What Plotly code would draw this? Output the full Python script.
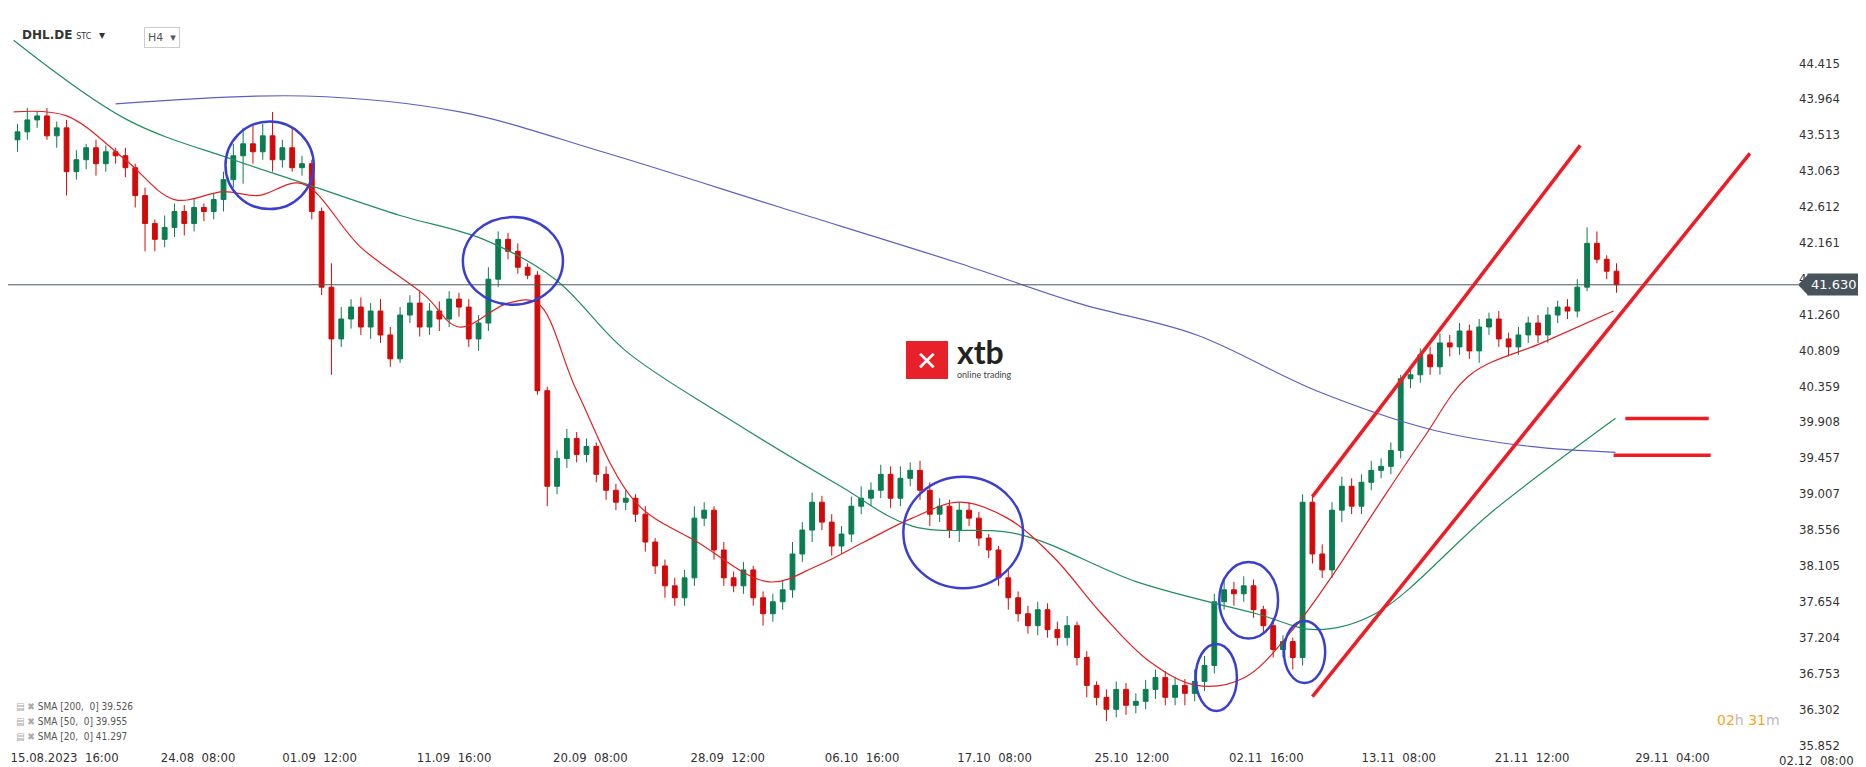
import plotly.graph_objects as go

closes = [43.55,43.70,43.75,43.50,43.60,43.05,43.20,43.35,43.15,43.30,
          43.25,43.10,42.75,42.40,42.20,42.35,42.55,42.40,42.60,42.55,
          42.70,42.95,43.25,43.40,43.30,43.50,43.20,43.35,43.10,43.15,
          42.55,41.60,40.95,41.20,41.35,41.10,41.30,41.00,40.70,41.25,
          41.40,41.10,41.30,41.20,41.45,41.35,40.95,41.15,41.70,42.20,
          42.05,41.85,41.75,40.30,39.10,39.45,39.70,39.50,39.60,39.25,
          39.05,38.90,38.95,38.75,38.40,38.10,37.85,37.70,37.95,38.70,
          38.80,38.30,37.95,37.85,38.05,37.70,37.50,37.65,37.80,38.25,
          38.55,38.90,38.65,38.35,38.50,38.85,38.95,39.05,39.25,38.95,
          39.20,39.30,39.05,38.75,38.85,38.55,38.80,38.70,38.45,38.30,
          37.95,37.70,37.50,37.35,37.55,37.30,37.20,37.35,36.95,36.60,
          36.45,36.30,36.55,36.35,36.40,36.55,36.70,36.45,36.60,36.50,
          36.65,36.85,37.65,37.80,37.75,37.85,37.55,37.35,37.05,37.15,
          36.95,38.90,38.25,38.05,38.80,39.10,38.85,39.15,39.30,39.35,
          39.55,40.45,40.50,40.75,40.60,40.90,40.85,41.05,40.80,41.10,
          41.20,40.95,40.85,41.00,41.15,41.00,41.25,41.35,41.30,41.60,
          42.15,41.95,41.80,41.63]
first_open = 43.45
upper_wick = [0.10,0.15,0.05,0.10,0.08,0.10,0.12,0.05,0.10,0.08,
              0.05,0.10,0.05,0.10,0.05,0.15,0.10,0.08,0.12,0.05,
              0.08,0.10,0.15,0.20,0.25,0.15,0.30,0.10,0.25,0.10,
              0.05,0.05,0.30,0.15,0.10,0.12,0.10,0.15,0.10,0.10,
              0.10,0.15,0.10,0.12,0.10,0.08,0.10,0.10,0.15,0.10,
              0.08,0.10,0.05,0.05,0.05,0.10,0.12,0.08,0.10,0.05,
              0.10,0.08,0.10,0.05,0.10,0.05,0.08,0.10,0.10,0.15,
              0.10,0.05,0.10,0.08,0.10,0.05,0.08,0.10,0.12,0.15,
              0.10,0.12,0.08,0.10,0.10,0.12,0.15,0.10,0.12,0.10,
              0.15,0.10,0.12,0.10,0.10,0.08,0.10,0.10,0.08,0.05,
              0.05,0.10,0.08,0.10,0.10,0.08,0.10,0.12,0.05,0.08,
              0.05,0.10,0.10,0.08,0.10,0.12,0.10,0.08,0.10,0.08,
              0.15,0.12,0.10,0.15,0.10,0.12,0.08,0.05,0.10,0.08,
              0.05,0.10,0.10,0.12,0.10,0.12,0.10,0.10,0.12,0.10,
              0.10,0.05,0.10,0.08,0.10,0.12,0.10,0.10,0.08,0.10,
              0.08,0.10,0.08,0.10,0.08,0.10,0.10,0.08,0.10,0.10,
              0.20,0.15,0.05,0.10]
lower_wick = [0.15,0.10,0.10,0.05,0.15,0.30,0.10,0.12,0.15,0.10,
              0.10,0.12,0.15,0.35,0.15,0.10,0.12,0.15,0.10,0.12,
              0.10,0.15,0.10,0.35,0.15,0.10,0.15,0.10,0.05,0.10,
              0.10,0.10,0.45,0.10,0.12,0.10,0.15,0.10,0.10,0.05,
              0.10,0.12,0.10,0.15,0.10,0.12,0.10,0.15,0.10,0.10,
              0.10,0.08,0.05,0.05,0.25,0.10,0.12,0.10,0.10,0.10,
              0.12,0.10,0.10,0.10,0.12,0.10,0.15,0.10,0.10,0.10,
              0.10,0.12,0.10,0.08,0.10,0.10,0.15,0.10,0.10,0.10,
              0.10,0.15,0.10,0.12,0.10,0.10,0.10,0.10,0.10,0.12,
              0.10,0.10,0.12,0.15,0.10,0.10,0.15,0.10,0.10,0.10,
              0.10,0.15,0.10,0.10,0.12,0.10,0.10,0.10,0.10,0.15,
              0.10,0.15,0.10,0.12,0.10,0.10,0.12,0.10,0.10,0.15,
              0.10,0.12,0.10,0.10,0.15,0.10,0.10,0.10,0.10,0.10,
              0.15,0.10,0.12,0.10,0.10,0.15,0.10,0.10,0.10,0.10,
              0.10,0.10,0.12,0.10,0.10,0.10,0.12,0.10,0.10,0.15,
              0.10,0.10,0.12,0.10,0.10,0.10,0.10,0.10,0.10,0.08,
              0.05,0.05,0.10,0.10]

sma20_x = [-0.4,5,11,16,21,24.5,29,35,41.5,45,50,53,57,63,69.3,76.6,81.5,86.3,91.2,96,100.9,105.7,110.5,115.4,120.2,125.1,130,133.6,138.4,143.3,148.1,155.4,162.7]
sma20_y = [43.8,43.75,43.2,42.7,42.8,42.75,42.9,42.1,41.5,41.1,41.4,41.4,40.3,38.9,38.4,37.9,38.1,38.4,38.7,38.9,38.7,38.2,37.5,36.9,36.6,36.7,37.3,37.9,38.8,39.7,40.5,40.9,41.3]
sma50_x = [-0.4,11.2,22,29.3,39,47.5,54.8,62,71.8,83.9,91.2,102,114.1,126.3,132.4,138.4,150.5,162.9]
sma50_y = [44.7,43.7,43.2,42.9,42.5,42.2,41.7,40.8,40.0,39.1,38.6,38.5,37.9,37.5,37.3,37.5,38.8,39.955]
sma200_x = [10,29.3,45.1,59.6,77.8,96,108.1,120.2,132.4,144.5,154.2,162.9]
sma200_y = [43.9,44.0,43.8,43.3,42.6,41.9,41.4,41.0,40.3,39.8,39.6,39.526]

y_ticks = [44.415,43.964,43.513,43.063,42.612,42.161,41.711,41.260,40.809,40.359,39.908,39.457,39.007,38.556,38.105,37.654,37.204,36.753,36.302,35.852]
x_tickvals = [4.8,18.4,30.8,44.5,58.4,72.4,86.1,99.6,113.6,127.3,140.8,154.4,168.7]
x_ticktext = ["15.08.2023  16:00","24.08  08:00","01.09  12:00","11.09  16:00","20.09  08:00","28.09  12:00","06.10  16:00","17.10  08:00","25.10  12:00","02.11  16:00","13.11  08:00","21.11  12:00","29.11  04:00"]
last_price = 41.63

opens = [first_open] + closes[:-1]
highs = [max(o, c) + w for o, c, w in zip(opens, closes, upper_wick)]
lows = [min(o, c) - w for o, c, w in zip(opens, closes, lower_wick)]
idx = list(range(len(closes)))

GREEN, RED = "#0a7d52", "#d20a0a"
fig = go.Figure()
fig.add_trace(go.Scatter(x=sma200_x, y=sma200_y, mode="lines", line=dict(color="#5b5fc7", width=1.2, shape="spline"), hoverinfo="skip"))
fig.add_trace(go.Scatter(x=sma50_x, y=sma50_y, mode="lines", line=dict(color="#1f8f5f", width=1.2, shape="spline"), hoverinfo="skip"))
fig.add_trace(go.Scatter(x=sma20_x, y=sma20_y, mode="lines", line=dict(color="#e02020", width=1.2, shape="spline"), hoverinfo="skip"))
fig.add_trace(go.Candlestick(x=idx, open=opens, high=highs, low=lows, close=closes,
    increasing=dict(line=dict(color=GREEN, width=1), fillcolor=GREEN),
    decreasing=dict(line=dict(color=RED, width=1), fillcolor=RED),
    whiskerwidth=0))

shapes = []
shapes.append(dict(type="line", xref="paper", x0=0, x1=1, y0=last_price, y1=last_price, line=dict(color="#4a5560", width=1)))
for cx, rx, cy, ry in [(25.7,4.5,43.13,0.55),(50.5,5.1,41.93,0.55),(96.4,6.1,38.52,0.70),(125.5,3.0,37.67,0.48),(122.2,2.1,36.70,0.42),(131.2,2.1,37.02,0.39)]:
    shapes.append(dict(type="circle", x0=cx-rx, x1=cx+rx, y0=cy-ry, y1=cy+ry, line=dict(color="#3a3fd0", width=2.5)))
RL = "#ee1c25"
for x0, y0, x1, y1 in [(132,38.97,159.3,43.38),(132,36.46,176.6,43.28),(163.9,39.95,172.4,39.95),(162.7,39.49,172.6,39.49)]:
    shapes.append(dict(type="line", x0=x0, y0=y0, x1=x1, y1=y1, line=dict(color=RL, width=3.5)))
shapes.append(dict(type="rect", xref="paper", yref="paper", x0=898/1790, x1=940/1790, y0=1-371/740, y1=1-333/740, fillcolor="#e8202a", line=dict(width=0)))
shapes.append(dict(type="path", xref="paper", yref="y", path=f"M {1.0} {last_price} L {1.0+10/1790} {last_price+0.13} L {1.0+10/1790} {last_price-0.13} Z", fillcolor="#48535c", line=dict(width=0)))
fig.update_layout(shapes=shapes)

ann = [
    dict(xref="paper", yref="y", x=1.0+9/1790, y=last_price, xanchor="left", text="41.630", showarrow=False,
         font=dict(color="white", size=13, family="DejaVu Sans"), bgcolor="#48535c", borderpad=3),
    dict(xref="paper", yref="paper", x=919/1790, y=1-352/740, text="✕", showarrow=False, font=dict(color="white", size=26)),
    dict(xref="paper", yref="paper", x=947/1790, y=1-343/740, xanchor="left", text="<b>xtb</b>", showarrow=False, font=dict(color="#222", size=32, family="Lato")),
    dict(xref="paper", yref="paper", x=947/1790, y=1-367/740, xanchor="left", text="online trading", showarrow=False, font=dict(color="#444", size=9, family="Lato")),
    dict(xref="paper", yref="paper", x=12/1790, y=1-18/740, xanchor="left", text="<b>DHL.DE</b> <span style='font-size:8px'>STC</span>  ▾", showarrow=False, font=dict(color="#333", size=12, family="DejaVu Sans")),
    dict(xref="paper", yref="paper", x=136/1790, y=1-19/740, xanchor="left", text="H4  ▾", showarrow=False, font=dict(color="#555", size=11, family="DejaVu Sans"), bordercolor="#ccc", borderwidth=1, borderpad=3),
    dict(xref="paper", yref="paper", x=1848/1790, y=-0.004, xanchor="right", yanchor="top", text="02.12  08:00", showarrow=False, font=dict(color="#333", size=13, family="DejaVu Sans Condensed")),
    dict(xref="paper", yref="paper", x=1740/1790, y=1-722/740, xanchor="center", text="<span style='color:#f5a623'>02</span><span style='color:#bbb'>h</span> <span style='color:#f5a623'>31</span><span style='color:#bbb'>m</span>", showarrow=False, font=dict(size=14, family="DejaVu Sans")),
]
for k, t in enumerate(["SMA [200,  0] 39.526", "SMA [50,  0] 39.955", "SMA [20,  0] 41.297"]):
    ann.append(dict(xref="paper", yref="paper", x=6/1790, y=1-(706+k*15)/740, xanchor="left",
                    text="<span style='color:#aaa'>▤ ✖</span> " + t, showarrow=False, font=dict(color="#555", size=10, family="DejaVu Sans Condensed")))
fig.update_layout(annotations=ann)

fig.update_layout(
    width=1866, height=767, margin=dict(l=0, r=76, t=0, b=27),
    paper_bgcolor="white", plot_bgcolor="white", showlegend=False,
    xaxis=dict(range=[-0.97, 181.5], tickvals=x_tickvals, ticktext=x_ticktext, showgrid=False, zeroline=False,
               rangeslider=dict(visible=False), ticks="", tickfont=dict(color="#333", size=13, family="DejaVu Sans Condensed")),
    yaxis=dict(range=[35.814, 45.105], side="right", tickvals=y_ticks, ticktext=[f"{v:.3f}" for v in y_ticks],
               showgrid=False, zeroline=False, ticks="", tickfont=dict(color="#333", size=13, family="DejaVu Sans Condensed")),
)
fig.write_html("out.html")
